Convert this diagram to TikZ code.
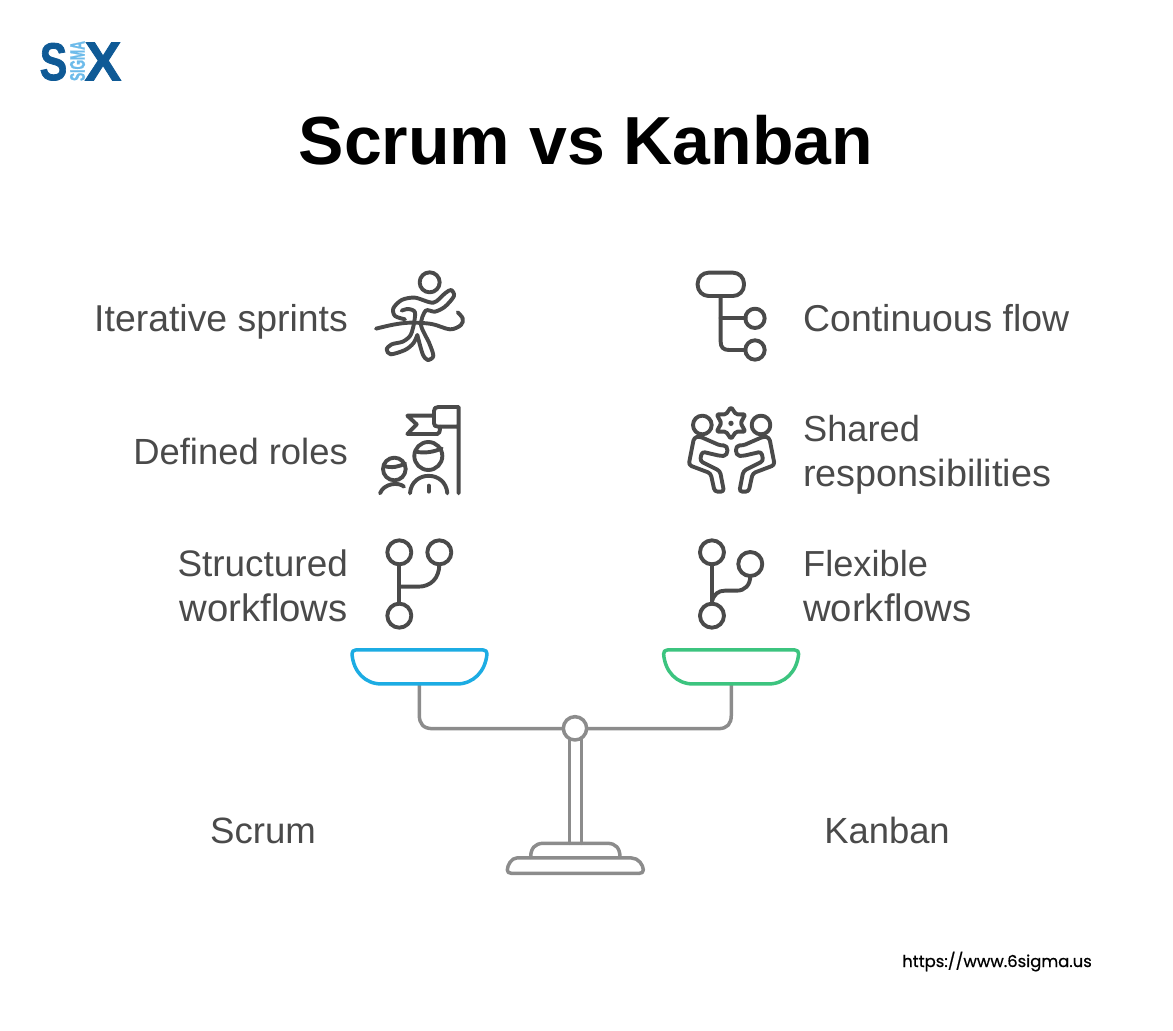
\documentclass[tikz,border=0pt]{standalone}
\usepackage{fontspec}
\setmainfont{Liberation Sans}
\newfontfamily\urlfont[FakeBold=0.6]{Poppins}
\newfontfamily\logofont[FakeBold=1.6]{Liberation Sans Bold}
\definecolor{ink}{HTML}{4A4A4A}
\definecolor{beamgray}{HTML}{8C8C8C}
\definecolor{panblue}{HTML}{1CACE3}
\definecolor{pangreen}{HTML}{3CC47F}
\definecolor{logodark}{HTML}{0F5A96}
\definecolor{logolight}{HTML}{6DBBEA}
\newcommand{\szd}[2]{{\fontsize{#1}{44.5}\selectfont #2}}
\tikzset{
  icon/.style={draw=ink,line width=3.9pt,line cap=round,line join=round},
  beam/.style={draw=beamgray,line width=3.5pt,line cap=round,line join=round},
  pan/.style={line width=3.5pt,line join=round,fill=white},
  lab/.style={text=ink,inner sep=0pt,font=\fontsize{37.4}{44.5}\selectfont},
  labr/.style={lab,align=right,anchor=east},
  labl/.style={lab,align=left,anchor=west},
  zoomed/.style={shift={(#1)},x=0.3333pt,y=-0.3333pt}
}
\begin{document}
\begin{tikzpicture}[x=1pt,y=-1pt]
\useasboundingbox (0,0) rectangle (1173,1031);
% logo
\node[inner sep=0pt,anchor=base,text=logodark,xscale=.78] (logoS) at (53.5,80) {\logofont\fontsize{53}{53}\selectfont S};
\node[inner sep=0pt,anchor=base,text=logodark] (logoX) at (103,80.5) {\logofont\fontsize{55}{55}\selectfont X};
\node[inner sep=0pt,anchor=center,text=logolight,rotate=90,xscale=.58] (logoSigma) at (77.5,61) {\logofont\fontsize{21}{21}\selectfont SIGMA};
% title
\node[inner sep=0pt,anchor=base,text=black] (title) at (586,164) {\fontsize{68}{70}\selectfont\bfseries Scrum vs Kanban};
% labels
\node[lab,anchor=base east] (l1) at (348,331) {Iterative sprints};
\node[lab,anchor=base east] (l2) at (348,464) {\szd{36.4}{Defined roles}};
\node[labr] (l3) at (348,586) {\szd{36.9}{Structured}\\\szd{38.3}{workflows}};
\node[lab,anchor=base west] (r1) at (803,331) {Continuous flow};
\node[labl] (r2) at (803,455) {\szd{36.2}{Shared}\\\szd{37.8}{responsibilities}};
\node[labl] (r3) at (803,586) {\szd{36.2}{Flexible}\\\szd{38.3}{workflows}};
\node[lab,anchor=base] (scrum) at (263,843) {\szd{36.6}{Scrum}};
\node[lab,anchor=base] (kanban) at (887,843) {\szd{36.4}{Kanban}};
\node[inner sep=0pt,anchor=base east,text=black] (url) at (1092,967) {\urlfont\fontsize{16.4}{20}\selectfont https://www.6sigma.us};
% runner
\begin{scope}[zoomed={360,260}]
\draw[icon] (209,67) circle (30);
\draw[icon] plot[smooth,tension=.55] coordinates {(48,206) (100,194) (150,188) (215,192) (270,208) (303,195) (308,175) (293,157)};
\draw[icon] plot[smooth,tension=.5] coordinates {(135,178) (105,168) (100,145) (125,120) (165,113) (220,128) (255,100) (273,90) (282,108) (255,140) (225,155) (197,152) (183,195) (208,250) (220,288) (203,300) (188,282) (172,225)};
\draw[icon] plot[smooth,tension=.5] coordinates {(125,152) (145,147) (165,157) (160,200) (150,228) (128,245) (95,253) (80,268) (92,283) (135,270) (160,250) (172,225)};
\end{scope}
% roles
\begin{scope}[zoomed={360,395}]
\draw[icon] (296,295) -- (296,36) -- (235,36) .. controls (226,36) and (222,40) .. (222,48) -- (222,85) .. controls (222,92) and (226,95) .. (235,95) -- (296,95);
\draw[icon] (222,62) -- (142,62) -- (170,88) -- (142,117) -- (232,117) .. controls (238,117) and (240,110) .. (240,95);
\draw[icon] (205,183) circle (42);
\draw[icon] (168,170) .. controls (195,176) and (225,170) .. (245,160);
\draw[icon] (150,295) .. controls (155,225) and (257,225) .. (262,295);
\draw[icon] (206,272) -- (206,290);
\draw[icon] (103,222) circle (34);
\draw[icon] (72,213) .. controls (95,220) and (120,215) .. (135,205);
\draw[icon] (60,295) .. controls (72,265) and (115,260) .. (132,275);
\end{scope}
% continuous flow
\begin{scope}[zoomed={680,260}]
\draw[icon,rounded corners=11pt] (53,38) rectangle (192,108);
\draw[icon] (122,108) -- (122,245) .. controls (122,262) and (130,270) .. (147,270) -- (197,270);
\draw[icon] (122,175) -- (197,175);
\draw[icon] (225,175) circle (29);
\draw[icon] (225,270) circle (29);
\end{scope}
% shared responsibilities
\begin{scope}[zoomed={680,395}]
\draw[icon] (67,90) circle (28);
\draw[icon] (243,90) circle (28);
\draw[icon,rounded corners=1.5pt] (153,36) -- (168,58) -- (196,58) -- (182,84) -- (196,110) -- (168,110) -- (153,132) -- (138,110) -- (110,110) -- (124,84) -- (110,58) -- (138,58) -- cycle;
\fill[ink] (153,85) circle (8);
\draw[icon,rounded corners=3pt] (58,124) -- (42,128) -- (26,210) -- (92,235) -- (104,290) -- (132,290) -- (120,228) -- (60,198) -- (66,170) -- (122,183) .. controls (146,182) and (146,150) .. (122,152) -- cycle;
\draw[icon,rounded corners=3pt] (252,124) -- (268,128) -- (284,210) -- (218,235) -- (206,290) -- (178,290) -- (190,228) -- (250,198) -- (244,170) -- (188,183) .. controls (164,182) and (164,150) .. (188,152) -- cycle;
\end{scope}
% branch icons, pans, beam
\begin{scope}[zoomed={340,530}]
\draw[icon] (178,67) circle (36);
\draw[icon] (298,67) circle (36);
\draw[icon] (178,257) circle (36);
\draw[icon] (178,103) -- (178,221);
\draw[icon] (178,170) -- (235,170) .. controls (272,170) and (298,145) .. (298,103);
\draw[icon] (1116,67) circle (36);
\draw[icon] (1231,102) circle (36);
\draw[icon] (1116,257) circle (36);
\draw[icon] (1116,103) -- (1116,221);
\draw[icon] (1116,215) .. controls (1122,192) and (1135,182) .. (1155,182) -- (1190,182) .. controls (1215,182) and (1231,165) .. (1231,138);
\coordinate (bl) at (238,465);
\coordinate (br) at (1174,465);
\coordinate (piv) at (705,596);
\draw[beam] (bl) -- (238,555) .. controls (238,582) and (250,596) .. (278,596) -- (1135,596) .. controls (1162,596) and (1174,582) .. (1174,555) -- (br);
\draw[pan,draw=panblue] (47,360) -- (430,360) .. controls (438,360) and (441,365) .. (441,372) .. controls (436,425) and (400,462) .. (350,462) -- (125,462) .. controls (75,462) and (40,425) .. (36,372) .. controls (36,365) and (39,360) .. (47,360) -- cycle;
\draw[pan,draw=pangreen] (982,360) -- (1365,360) .. controls (1373,360) and (1376,365) .. (1376,372) .. controls (1371,425) and (1335,462) .. (1285,462) -- (1060,462) .. controls (1010,462) and (975,425) .. (971,372) .. controls (971,365) and (974,360) .. (982,360) -- cycle;
\end{scope}
% stand
\begin{scope}[zoomed={490,700}]
\draw[beam] (238,118) -- (238,430);
\draw[beam] (274,118) -- (274,430);
\draw[beam,fill=white] (255,85) circle (35);
\draw[beam] (122,472) .. controls (122,445) and (135,430) .. (160,430) -- (352,430) .. controls (378,430) and (390,445) .. (390,472);
\draw[beam,line join=round] (80,474) -- (425,474) .. controls (445,474) and (460,495) .. (460,510) .. controls (460,517) and (455,520) .. (448,520) -- (64,520) .. controls (56,520) and (52,516) .. (52,510) .. controls (52,495) and (65,474) .. (80,474) -- cycle;
\end{scope}
\end{tikzpicture}
\end{document}
